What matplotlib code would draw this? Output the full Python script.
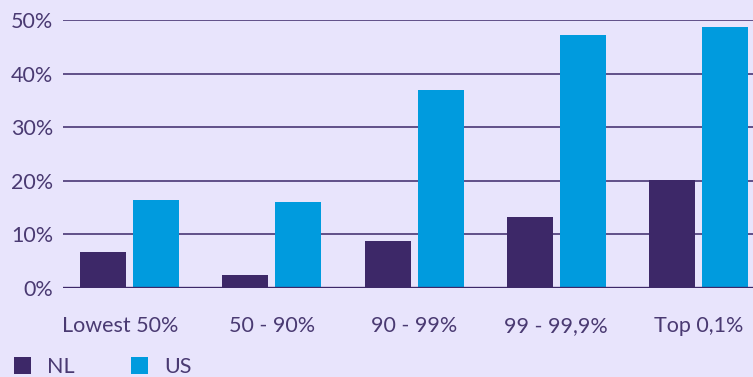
import matplotlib.pyplot as plt
import matplotlib.transforms as mtransforms
import numpy as np

categories = ['Lowest 50%', '50 - 90%', '90 - 99%', '99 - 99,9%', 'Top 0,1%']
nl_values = [6.7, 2.4, 8.8, 13.2, 20.1]
us_values = [16.4, 16.0, 36.9, 47.2, 48.7]
y_ticks = [0, 10, 20, 30, 40, 50]

bg = '#E8E4FC'
nl_color = '#3D2868'
us_color = '#009BDE'
text_color = '#4A3A72'

plt.rcParams['font.family'] = ['Lato', 'DejaVu Sans']
fs = 15.5

fig = plt.figure(figsize=(7.53, 3.77), dpi=100, facecolor=bg)
ax = fig.add_axes([63 / 753, 1 - 288 / 377, 690 / 753, 268 / 377])
ax.set_facecolor(bg)

x = np.arange(len(categories))
w = 0.3234
off = 0.1863
ax.bar(x - off, nl_values, w, color=nl_color, zorder=3, label='NL')
ax.bar(x + off, us_values, w, color=us_color, zorder=3, label='US')

ax.set_xlim(-0.4675, 4.383)
ax.set_ylim(0, 50)
ax.set_yticks(y_ticks)
ax.set_yticklabels([f'{t}%' for t in y_ticks])
ax.yaxis.grid(True, color='#55447F', linewidth=1.3, zorder=0)
ax.axhline(0, color=nl_color, linewidth=2.4, zorder=4)
for s in ax.spines.values():
    s.set_visible(False)
ax.tick_params(axis='y', length=0, pad=7, labelsize=fs, labelcolor=text_color)
ax.set_xticks(x)
ax.set_xticklabels(categories)
ax.tick_params(axis='x', length=0, pad=20, labelsize=fs, labelcolor=text_color)

# first label sits a bit to the left in the original
lbl = ax.get_xticklabels()[0]
lbl.set_transform(lbl.get_transform() + mtransforms.ScaledTranslation(-0.09, 0, fig.dpi_scale_trans))

leg = fig.legend(loc='center left', bbox_to_anchor=(14 / 753, 1 - 367 / 377), ncol=2,
                 frameon=False, fontsize=fs, handlelength=0.8, handleheight=0.8,
                 columnspacing=2.6, handletextpad=0.75, borderpad=0, borderaxespad=0,
                 labelcolor=text_color)

fig.savefig('out.png', dpi=100, facecolor=bg)
